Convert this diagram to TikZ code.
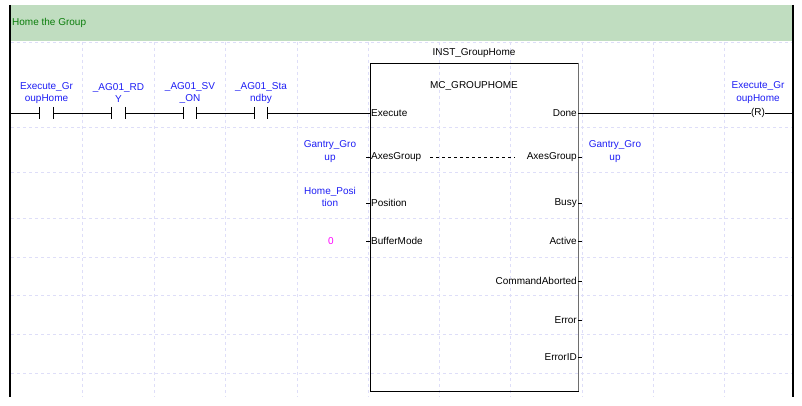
\documentclass[tikz,border=0pt]{standalone}
\usepackage{fontspec}
\setmainfont{Liberation Sans}
\begin{document}
\begin{tikzpicture}[x=1pt,y=-1pt,
  lbl/.style={font=\fontsize{10}{12.5}\selectfont, inner sep=0pt, align=center},
  var/.style={lbl, text=varblue},
  pinin/.style={lbl, anchor=west},
  pinout/.style={lbl, anchor=east},
  contact/.style={minimum width=13pt, minimum height=12pt, inner sep=0pt, draw=none},
  wire/.style={black, line width=0.9pt},
  grid line/.style={gridcol, line width=0.6pt, dash pattern=on 3pt off 3pt},
  stub/.style={black, line width=0.7pt}
]
\definecolor{varblue}{RGB}{30,30,245}
\definecolor{gridcol}{RGB}{222,222,248}
\definecolor{bannergreen}{RGB}{192,221,192}
\definecolor{titlegreen}{RGB}{10,125,10}
\definecolor{railgray}{RGB}{110,110,110}
\useasboundingbox (0,0) rectangle (802,406);
\fill[white] (0,0) rectangle (802,406);
% banner
\fill[bannergreen] (10,5) rectangle (793,41);
\node[lbl, anchor=west, text=titlegreen] (title) at (12,23) {Home the Group};
% grid
\foreach \gx in {82,154,225,297,368,439,510,582,653,724}
  \draw[grid line] (\gx,42) -- (\gx,397);
\foreach \gy in {42,127,172,218,257,295,334,373}
  \draw[grid line] (11,\gy) -- (792,\gy);
% rails
\coordinate (railLtop) at (10,5);
\coordinate (railLbot) at (10,397);
\coordinate (railRtop) at (793,5);
\coordinate (railRbot) at (793,397);
\draw[black, line width=2pt] (railLtop) -- (railLbot);
\draw[black, line width=1.3pt] (railRtop) -- (railRbot);
\coordinate (railL) at (10,113);
\coordinate (railR) at (793,113);
% contacts
\node[contact] (c1) at (46.5,113) {};
\node[contact] (c2) at (118.5,113) {};
\node[contact] (c3) at (190,113) {};
\node[contact] (c4) at (261,113) {};
\foreach \c in {c1,c2,c3,c4}{
  \draw[wire] (\c.north west) -- (\c.south west);
  \draw[wire] (\c.north east) -- (\c.south east);
}
\node[var] (l1) at (46.5,93) {Execute\_Gr\\oupHome};
\node[var] (l2) at (118.5,93) {\_AG01\_RD\\Y};
\node[var] (l3) at (190,93) {\_AG01\_SV\\\_ON};
\node[var] (l4) at (261,93) {\_AG01\_Sta\\ndby};
% function block
\node[draw=black, line width=0.9pt, minimum width=208pt, minimum height=328pt, inner sep=0pt] (fb) at (474,227) {};
\draw[railgray, line width=1.6pt] (fb.north east) -- (fb.south east);
\node[lbl] (inst) at (474,53) {INST\_GroupHome};
\node[lbl] (fbtype) at (474,86) {MC\_GROUPHOME};
% input pins
\foreach \nm/\yy/\tx in {inExe/113/Execute, inAx/157/AxesGroup, inPos/203/Position, inBuf/241/BufferMode}{
  \coordinate (\nm) at (370,\yy);
  \node[pinin] (\nm t) at (371,\yy) {\tx};
  \draw[stub] (366,\yy) -- (\nm);
}
% output pins
\foreach \nm/\yy/\tx in {outDone/113/Done, outAx/157/AxesGroup, outBusy/203/Busy, outAct/241/Active, outCA/281/CommandAborted, outErr/320/Error, outEID/357/ErrorID}{
  \coordinate (\nm) at (578,\yy);
  \node[pinout] (\nm t) at (577,\yy) {\tx};
  \draw[stub] (\nm) -- (582,\yy);
}
% in-out link
\draw[black, line width=0.8pt, dash pattern=on 3pt off 3pt] (inAxt.east) ++(9,0) coordinate (dashA) -- (515,157) coordinate (dashB);
% input variables
\node[var] (vGin) at (330,151.5) {Gantry\_Gro\\up};
\node[var] (vPos) at (330,197) {Home\_Posi\\tion};
\node[lbl, text={rgb,255:red,255;green,0;blue,255}] (vBuf) at (331,241) {0};
\node[var] (vGout) at (615,151.5) {Gantry\_Gro\\up};
% coil
\node[lbl] (coil) at (758,113) {(R)};
\node[var] (lc) at (758,92.5) {Execute\_Gr\\oupHome};
% rung wires
\draw[wire] (railL) -- (c1.west);
\draw[wire] (c1.east) -- (c2.west);
\draw[wire] (c2.east) -- (c3.west);
\draw[wire] (c3.east) -- (c4.west);
\draw[wire] (c4.east) -- (inExe);
\draw[wire] (outDone) -- (coil.west);
\draw[wire] (coil.east) -- (railR);
\end{tikzpicture}
\end{document}
